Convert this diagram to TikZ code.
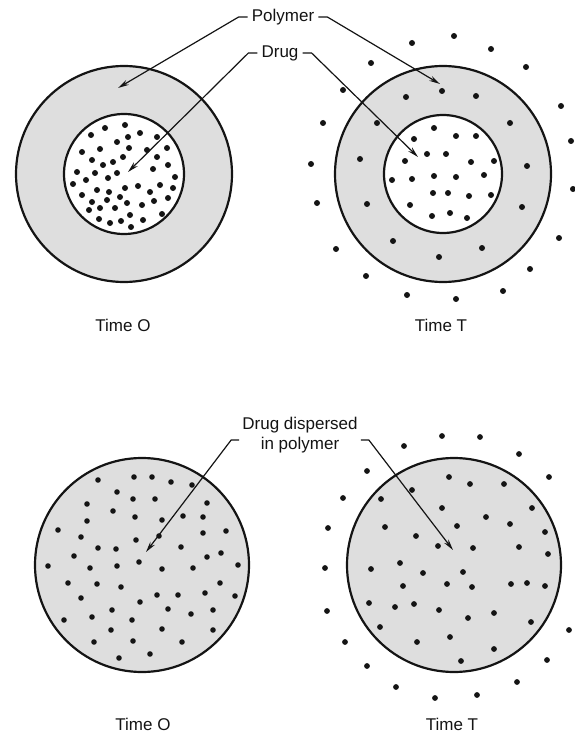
\documentclass[tikz,border=0pt]{standalone}
\usepackage{fontspec}
\setmainfont{Liberation Sans}
\usepackage{tikz}
\usetikzlibrary{positioning, arrows.meta}
\definecolor{pInk}{HTML}{141414}
\definecolor{pFill}{HTML}{DEDEDE}

\begin{document}
\begin{tikzpicture}[x=1pt, y=-1pt, >={Stealth[length=11pt, width=5.5pt]},
    rim/.style={draw=pInk, line width=2.2pt},
    lead/.style={draw=pInk, line width=1.2pt},
    lbl/.style={inner sep=0pt, text=pInk, font=\fontsize{17}{20}\selectfont, align=center}]
  \useasboundingbox (0,0) rectangle (574,738);
  % centres
  \coordinate (tl) at (124,174);
  \coordinate (tr) at (443,174);
  \coordinate (bl) at (142,565);
  \coordinate (br) at (454,565);
  % reservoir, time 0 and time T
  \fill[pFill] (tl) circle (108);
  \fill[white] (tl) circle (60);
  \fill[pFill] (tr) circle (108);
  \fill[white] (tr) circle (59);
  % matrix
  \fill[pFill] (bl) circle (107);
  \fill[pFill] (br) circle (107);
  % drug particles
  \foreach \px/\py in {125/125,105/128,91/135,140/133,128/137,117/142,157/137,82/152,100/149,129/148,
      147/150,167/148,92/160,113/162,103/165,123/157,157/157,77/172,95/173,117/173,108/178,153/169,
      168/165,86/180,73/184,175/177,97/190,109/192,125/188,138/186,150/192,160/185,173/188,82/195,
      92/202,107/200,120/197,127/203,142/205,154/201,168/198,89/210,100/208,115/208,130/215,143/220,
      162/214,99/219,110/223,121/221,131/227}
    \fill[pInk] (\px,\py) circle (3);
  \foreach \px/\py in {454/36,412/43,491/49,371/63,526/67,343/90,561/106,323/123,571/141,311/164,
      573/189,317/203,559/238,336/249,530/269,366/276,503/291,407/295,456/299,
      442/91,406/97,476/96,377/123,510/123,360/159,527/166,367/204,522/207,393/241,482/248,439/257,
      434/128,414/139,456/136,476/136,427/154,446/154,405/161,471/162,494/161,392/180,412/179,
      434/176,456/177,484/175,433/193,448/193,469/196,491/195,410/205,432/216,450/213,467/218}
    \fill[pInk] (\px,\py) circle (3);
  \foreach \px/\py in {98/480,134/477,152/477,171/482,192/485,117/492,133/499,155/499,207/503,87/504,
      113/511,135/517,162/520,183/516,203/517,87/521,58/530,81/537,136/540,159/536,203/533,226/531,
      98/548,116/549,181/547,221/553,74/556,207/557,48/566,90/568,117/566,139/562,162/569,193/568,
      238/565,68/583,97/584,121/587,220/583,81/598,140/602,157/595,178/595,205/593,235/596,112/610,
      168/609,213/610,64/620,92/617,132/620,191/614,111/630,162/629,213/630,94/642,133/641,182/642,
      119/658,150/654}
    \fill[pInk] (\px,\py) circle (2.8);
  \foreach \px/\py in {442/436,480/437,404/446,519/454,367/471,549/477,343/498,328/528,325/568,
      327/611,569/630,345/642,547/660,367/666,517/682,396/687,477/695,435/698,
      449/477,470/484,504/484,412/490,381/499,442/508,486/517,532/508,385/527,457/526,510/524,
      545/532,416/536,438/546,473/548,519/547,548/554,400/563,371/569,423/573,463/572,403/586,
      447/584,472/587,511/584,527/583,545/586,369/603,395/607,414/604,439/610,468/618,494/613,
      531/622,380/627,417/642,450/637,494/649,461/661}
    \fill[pInk] (\px,\py) circle (2.9);
  % outlines
  \draw[rim] (tl) circle (108);
  \draw[rim] (tl) circle (60);
  \draw[rim] (tr) circle (108);
  \draw[rim] (tr) circle (59);
  \draw[rim] (bl) circle (107);
  \draw[rim] (br) circle (107);

  % labels
  \node[lbl] (poly) at (283,17) {Polymer};
  \node[lbl] (drug) at (280,53) {Drug};
  \node[lbl] (disp) at (300,435) {Drug dispersed\\in polymer};
  \node[lbl] (t0a) at (123,325) {Time O};
  \node[lbl] (tTa) at (441,325) {Time T};
  \node[lbl] (t0b) at (143,724) {Time O};
  \node[lbl] (tTb) at (452,724) {Time T};

  % arrow tips
  \coordinate (pA) at (118,88);
  \coordinate (pB) at (440,84);
  \coordinate (dA) at (128,172);
  \coordinate (dB) at (418,157);
  \coordinate (mA) at (146,552);
  \coordinate (mB) at (453,550);

  % leaders
  \draw[lead, ->] ([xshift=-4pt]poly.west) -- ++(-9,0) -- (pA);
  \draw[lead, ->] ([xshift=4pt]poly.east) -- ++(9,0) -- (pB);
  \draw[lead, ->] ([xshift=-4pt]drug.west) -- ++(-9,0) -- (dA);
  \draw[lead, ->] ([xshift=4pt]drug.east) -- ++(9,0) -- (dB);
  \draw[lead, ->] ([shift={(-3,5)}]disp.west) -- ++(-8,0) -- (mA);
  \draw[lead, ->] ([shift={(3,5)}]disp.east) -- ++(8,0) -- (mB);
\end{tikzpicture}
\end{document}
